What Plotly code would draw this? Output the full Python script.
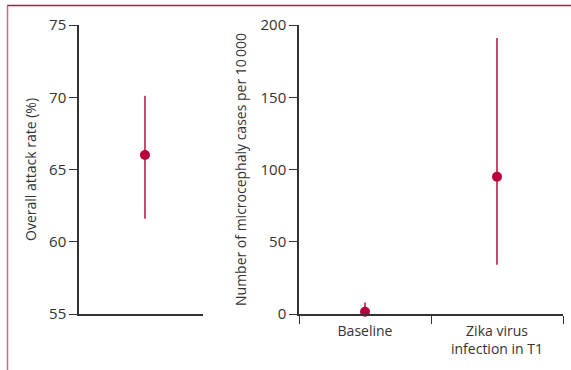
import plotly.graph_objects as go

# Left panel: overall attack rate
attack_label = ["Overall"]
attack_rate = [66.0]
attack_low = [61.6]
attack_high = [70.1]

# Right panel: microcephaly cases per 10 000
groups = ["Baseline", "Zika virus<br>infection in T1"]
micro_cases = [1.5, 95.0]
micro_low = [0.5, 34.0]
micro_high = [8.0, 191.0]

left_ticks = [55, 60, 65, 70, 75]
right_ticks = [0, 50, 100, 150, 200]

W, H = 571, 370
marker_color = "#b8003a"
bar_color = "#c8476c"
axis_color = "#333333"
font_family = "Open Sans, Lato, sans-serif"

fig = go.Figure()

fig.add_trace(go.Scatter(
    x=[0], y=attack_rate, mode="markers",
    marker=dict(color=marker_color, size=10),
    error_y=dict(type="data", symmetric=False,
                 array=[h - v for h, v in zip(attack_high, attack_rate)],
                 arrayminus=[v - l for l, v in zip(attack_low, attack_rate)],
                 color=bar_color, thickness=2, width=0),
    xaxis="x", yaxis="y", cliponaxis=False, showlegend=False,
))

fig.add_trace(go.Scatter(
    x=groups, y=micro_cases, mode="markers",
    marker=dict(color=marker_color, size=10),
    error_y=dict(type="data", symmetric=False,
                 array=[h - v for h, v in zip(micro_high, micro_cases)],
                 arrayminus=[v - l for l, v in zip(micro_low, micro_cases)],
                 color=bar_color, thickness=2, width=0),
    xaxis="x2", yaxis="y2", cliponaxis=False, showlegend=False,
))

ydom = [1 - 314 / H, 1 - 25 / H]

fig.update_layout(
    width=W, height=H, autosize=False, showlegend=False,
    margin=dict(l=0, r=0, t=0, b=0, pad=0, autoexpand=False),
    paper_bgcolor="white", plot_bgcolor="white",
    font=dict(family=font_family, color=axis_color, size=14),
    xaxis=dict(domain=[79 / W, 203 / W], range=[-0.532, 0.468],
               showgrid=False, zeroline=False, showticklabels=False,
               showline=True, linecolor=axis_color, linewidth=1.5,
               ticks="", anchor="y", automargin=False),
    yaxis=dict(domain=ydom, range=[55, 75], tickvals=left_ticks,
               showgrid=False, zeroline=False,
               showline=True, linecolor=axis_color, linewidth=1.5,
               ticks="outside", ticklen=8, tickwidth=1.2, tickcolor=axis_color,
               tickfont=dict(size=15), anchor="x", automargin=False),
    xaxis2=dict(domain=[299 / W, 563 / W], range=[-0.5, 1.5],
                type="category", tickson="boundaries",
                showgrid=False, zeroline=False,
                showline=True, linecolor=axis_color, linewidth=1.5,
                ticks="outside", ticklen=8, tickwidth=1.2, tickcolor=axis_color,
                ticklabelstandoff=3,
                tickfont=dict(size=14), anchor="y2", automargin=False),
    yaxis2=dict(domain=ydom, range=[0, 200], tickvals=right_ticks,
                showgrid=False, zeroline=False,
                showline=True, linecolor=axis_color, linewidth=1.5,
                ticks="outside", ticklen=8, tickwidth=1.2, tickcolor=axis_color,
                tickfont=dict(size=15), anchor="x2", automargin=False),
    annotations=[
        dict(text="Overall attack rate (%)", textangle=-90,
             x=30 / W, y=(1 - 170 / H), xref="paper", yref="paper",
             xanchor="center", yanchor="middle",
             showarrow=False, font=dict(size=14, color=axis_color)),
        dict(text="Number of microcephaly cases per 10\u2009000", textangle=-90,
             x=240 / W, y=(1 - 170 / H), xref="paper", yref="paper",
             xanchor="center", yanchor="middle",
             showarrow=False, font=dict(size=14, color=axis_color)),
    ],
    shapes=[
        dict(type="line", xref="paper", yref="paper",
             x0=7 / W, x1=1, y0=1 - 5.5 / H, y1=1 - 5.5 / H,
             line=dict(color="#b8173f", width=1.5)),
        dict(type="line", xref="paper", yref="paper",
             x0=7.5 / W, x1=7.5 / W, y0=0, y1=1 - 5.5 / H,
             line=dict(color="#d26886", width=1.5)),
    ],
)

fig.write_html(
    "out.html",
    config={"responsive": False, "displayModeBar": False},
    post_script="document.body.style.margin='0';document.documentElement.style.overflow='hidden';",
)
